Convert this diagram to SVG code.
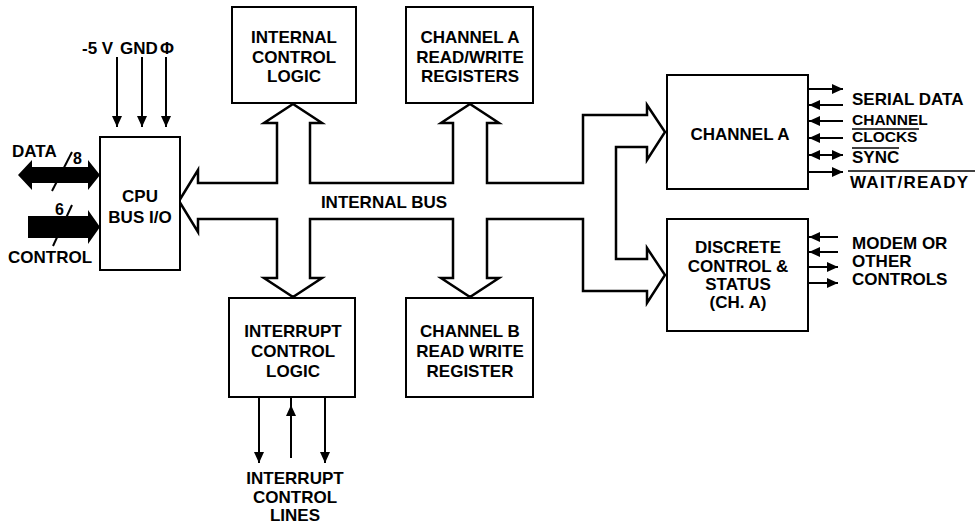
<svg xmlns="http://www.w3.org/2000/svg" width="976" height="526" viewBox="0 0 976 526">
<style>
.box{fill:#fff;stroke:#000;stroke-width:2}
.ln{fill:none;stroke:#000;stroke-width:2}
.bus{fill:#fff;stroke:#000;stroke-width:2.5;stroke-linejoin:miter}
.t{font-family:"Liberation Sans",Arial,sans-serif;font-weight:bold;font-size:17px;fill:#000;text-anchor:middle}
.l{font-family:"Liberation Sans",Arial,sans-serif;font-weight:bold;font-size:17px;fill:#000;text-anchor:start}
.s{font-size:15.5px}
</style>
<defs>
<marker id="ah" markerUnits="userSpaceOnUse" markerWidth="11" markerHeight="10" refX="11" refY="5" orient="auto-start-reverse">
<path d="M0,0 L11,5 L0,10 Z" fill="#000"/>
</marker>
</defs>
<rect width="976" height="526" fill="#fff"/>

<g id="connectors">
<path id="internal-bus" class="bus" d="M179,201 L198,170 L198,183 L277,183 L277,123 L264,123 L293,104 L322,123 L310,123 L310,183 L453,183 L453,123 L441,123 L470,104 L499,123 L487,123 L487,183 L583,183 L583,115 L647,115 L647,105 L665,132 L647,160 L647,147 L616,147 L616,259 L647,259 L647,248 L665,275 L647,303 L647,291 L583,291 L583,219 L487,219 L487,278 L499,278 L470,297 L441,278 L453,278 L453,219 L310,219 L310,278 L322,278 L293,297 L264,278 L277,278 L277,219 L198,219 L198,232 Z"/>
<text class="t" x="384" y="208">INTERNAL BUS</text>

<path d="M18,175 L32,160 L32,167 L88,167 L88,160 L100,175 L88,190 L88,183 L32,183 L32,190 Z" fill="#000"/>
<path d="M28,216 L88,216 L88,210 L100,227 L88,244 L88,238 L28,238 Z" fill="#000"/>
<line class="ln" x1="52" y1="191" x2="72" y2="152"/>
<line class="ln" x1="53" y1="246" x2="72" y2="205"/>

<line class="ln" x1="117" y1="57" x2="117" y2="127" marker-end="url(#ah)"/>
<line class="ln" x1="142" y1="57" x2="142" y2="127" marker-end="url(#ah)"/>
<line class="ln" x1="166" y1="57" x2="166" y2="127" marker-end="url(#ah)"/>

<line class="ln" x1="808" y1="89" x2="843" y2="89" marker-end="url(#ah)"/>
<line class="ln" x1="843" y1="105" x2="809" y2="105" marker-end="url(#ah)"/>
<line class="ln" x1="843" y1="121" x2="809" y2="121" marker-end="url(#ah)"/>
<line class="ln" x1="843" y1="138" x2="809" y2="138" marker-end="url(#ah)"/>
<line class="ln" x1="809" y1="155" x2="843" y2="155" marker-start="url(#ah)" marker-end="url(#ah)"/>
<line class="ln" x1="808" y1="172" x2="843" y2="172" marker-end="url(#ah)"/>

<line class="ln" x1="838" y1="237" x2="809" y2="237" marker-end="url(#ah)"/>
<line class="ln" x1="838" y1="252" x2="809" y2="252" marker-end="url(#ah)"/>
<line class="ln" x1="808" y1="267" x2="838" y2="267" marker-end="url(#ah)"/>
<line class="ln" x1="808" y1="283" x2="838" y2="283" marker-end="url(#ah)"/>

<line class="ln" x1="259" y1="397" x2="259" y2="463" marker-end="url(#ah)"/>
<line class="ln" x1="291" y1="458" x2="291" y2="405" marker-end="url(#ah)"/>
<line class="ln" x1="291" y1="406" x2="291" y2="397"/>
<line class="ln" x1="325" y1="397" x2="325" y2="463" marker-end="url(#ah)"/>
</g>

<g id="cpu-bus-io">
<rect class="box" x="100" y="137" width="80" height="133"/>
<text class="t" x="140" y="202">CPU</text>
<text class="t" x="140" y="223">BUS I/O</text>
</g>

<g id="internal-control-logic">
<rect class="box" x="232" y="7" width="124" height="96"/>
<text class="t" x="294" y="43">INTERNAL</text>
<text class="t" x="294" y="63">CONTROL</text>
<text class="t" x="294" y="82">LOGIC</text>
</g>

<g id="channel-a-registers">
<rect class="box" x="406" y="7" width="127" height="96"/>
<text class="t" x="470" y="43">CHANNEL A</text>
<text class="t" x="470" y="63">READ/WRITE</text>
<text class="t" x="470" y="82">REGISTERS</text>
</g>

<g id="interrupt-control-logic">
<rect class="box" x="229" y="298" width="126" height="99"/>
<text class="t" x="293" y="337">INTERRUPT</text>
<text class="t" x="293" y="357">CONTROL</text>
<text class="t" x="293" y="377">LOGIC</text>
</g>

<g id="channel-b-register">
<rect class="box" x="406" y="298" width="127" height="99"/>
<text class="t" x="470" y="337">CHANNEL B</text>
<text class="t" x="470" y="357">READ WRITE</text>
<text class="t" x="470" y="377">REGISTER</text>
</g>

<g id="channel-a">
<rect class="box" x="667" y="75" width="141" height="114"/>
<text class="t" x="740" y="140">CHANNEL A</text>
</g>

<g id="discrete-control">
<rect class="box" x="667" y="219" width="141" height="112"/>
<text class="t" x="738" y="253">DISCRETE</text>
<text class="t" x="738" y="272">CONTROL &amp;</text>
<text class="t" x="738" y="290">STATUS</text>
<text class="t" x="738" y="308">(CH. A)</text>
</g>

<g id="labels">
<text class="l" x="82" y="54">-5 V</text>
<text class="l" x="120" y="54">GND</text>
<text class="l" x="160" y="54">Φ</text>
<text class="l" x="12" y="157">DATA</text>
<text class="l" x="73" y="164" style="font-size:16px">8</text>
<text class="l" x="55" y="215" style="font-size:16px">6</text>
<text class="l" x="8" y="263">CONTROL</text>

<text class="l" x="852" y="105">SERIAL DATA</text>
<text class="l s" x="852" y="125">CHANNEL</text>
<line x1="852" y1="129" x2="919" y2="129" stroke="#000" stroke-width="1.5"/>
<text class="l s" x="852" y="142">CLOCKS</text>
<line x1="852" y1="148" x2="899" y2="148" stroke="#000" stroke-width="1.5"/>
<text class="l" x="852" y="163">SYNC</text>
<line x1="848" y1="171" x2="975" y2="171" stroke="#000" stroke-width="1.5"/>
<text class="l" x="850" y="188" textLength="118" lengthAdjust="spacing">WAIT/READY</text>

<text class="l" x="852" y="249">MODEM OR</text>
<text class="l" x="852" y="267">OTHER</text>
<text class="l" x="852" y="285">CONTROLS</text>

<text class="t" x="295" y="484">INTERRUPT</text>
<text class="t" x="295" y="503">CONTROL</text>
<text class="t" x="295" y="521">LINES</text>
</g>
</svg>
